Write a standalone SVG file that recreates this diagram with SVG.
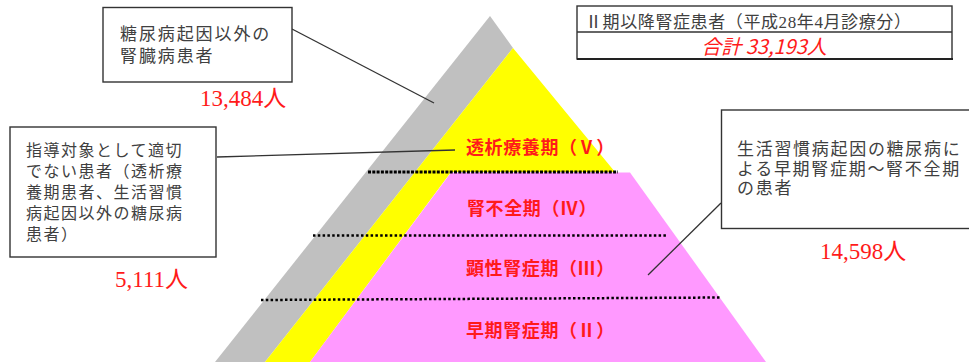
<svg xmlns="http://www.w3.org/2000/svg" width="969" height="362" viewBox="0 0 969 362">
<style>
.box{fill:#fff;stroke:#333;stroke-width:1.4}
.jp{font-family:"Noto Sans CJK JP","Noto Sans CJK SC",sans-serif;fill:#404040}
.num{font-family:"Liberation Serif","Noto Sans CJK JP",serif;fill:#ff1a1a}
.lbl{font-family:"Noto Sans CJK JP",sans-serif;font-weight:700;font-size:18px;fill:#ff1a1a;letter-spacing:0.6px}
.conn{stroke:#333;stroke-width:1.3;fill:none}
.dash1{stroke:#000;stroke-width:3;stroke-dasharray:3 1.3}
.dot{stroke:#000;stroke-width:2.5;stroke-dasharray:2.5 2.3}
</style>
<rect width="969" height="362" fill="#fff"/>
<g id="pyramid">
  <polygon points="490,16 513,48 265,362 215,362" fill="#c0c0c0"/>
  <polygon points="513,48 615,172 451,172 310,362 265,362" fill="#ffff00"/>
  <polygon points="451,172.5 630,172.5 766,362 310,362" fill="#ff99ff"/>
  <line class="dash1" x1="368" y1="172" x2="618" y2="172"/>
  <line class="dot" x1="313" y1="235.5" x2="666" y2="235.5"/>
  <line class="dot" x1="261" y1="300" x2="721" y2="297.5"/>
</g>
<g id="stage5"><text class="lbl" x="466" y="154">透析療養期（Ⅴ）</text></g>
<g id="stage4"><text class="lbl" x="467" y="215">腎不全期（Ⅳ）</text></g>
<g id="stage3"><text class="lbl" x="466" y="275">顕性腎症期（Ⅲ）</text></g>
<g id="stage2"><text class="lbl" x="466" y="337">早期腎症期（Ⅱ）</text></g>
<g id="connectors">
  <line class="conn" x1="292" y1="29" x2="434" y2="103"/>
  <line class="conn" x1="217" y1="157" x2="455" y2="150"/>
  <line class="conn" x1="721" y1="203" x2="648" y2="275"/>
</g>
<g id="box-other-kidney">
  <rect class="box" x="103" y="7.5" width="189" height="74.5"/>
  <text class="jp" font-size="17" letter-spacing="1.9" x="120" y="39.5">糖尿病起因以外の</text>
  <text class="jp" font-size="17" letter-spacing="1.9" x="120" y="61.5">腎臓病患者</text>
  <text class="num" font-size="23" x="200" y="106">13,484人</text>
</g>
<g id="box-not-target">
  <rect class="box" x="10" y="127" width="206" height="130"/>
  <g class="jp" font-size="16" letter-spacing="1.5">
    <text x="26" y="156">指導対象として適切</text>
    <text x="26" y="177">でない患者（透析療</text>
    <text x="26" y="198">養期患者、生活習慣</text>
    <text x="26" y="218.5">病起因以外の糖尿病</text>
    <text x="26" y="239.5">患者）</text>
  </g>
  <text class="num" font-size="23" x="115" y="287">5,111人</text>
</g>
<g id="box-lifestyle">
  <rect class="box" x="721.5" y="110" width="260" height="118.5"/>
  <g class="jp" font-size="17" letter-spacing="1.7">
    <text x="737" y="154.5">生活習慣病起因の糖尿病に</text>
    <text x="737" y="174.5">よる早期腎症期～腎不全期</text>
    <text x="737" y="194">の患者</text>
  </g>
  <text class="num" font-size="23" x="820" y="259">14,598人</text>
</g>
<g id="box-total">
  <rect class="box" x="577" y="6" width="375" height="53"/>
  <line stroke="#222" stroke-width="2.2" x1="577" y1="59" x2="953" y2="59"/>
  <line stroke="#333" stroke-width="1.3" x1="577" y1="32" x2="952" y2="32"/>
  <text class="jp" font-size="17" letter-spacing="0.6" x="585" y="28" style="font-family:'Liberation Serif','Noto Sans CJK JP',serif">Ⅱ期以降腎症患者（平成28年4月診療分）</text>
  <text font-family="'Noto Sans CJK JP',sans-serif" font-size="20" font-style="italic" fill="#ff1a1a" text-anchor="middle" x="764" y="54">合計 33,193人</text>
</g>
</svg>
